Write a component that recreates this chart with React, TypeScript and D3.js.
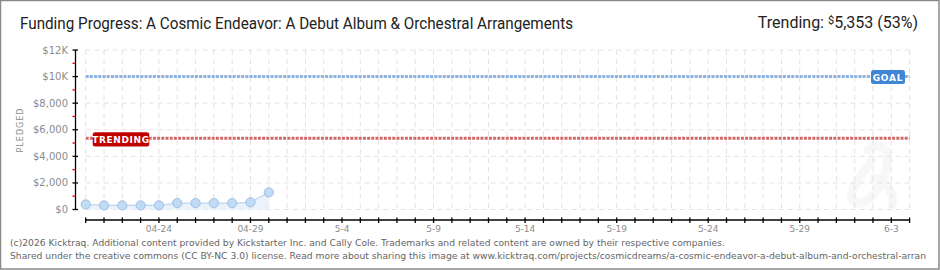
import React from "react";
import * as d3 from "d3";

const pledged = [380, 310, 310, 310, 310, 480, 480, 480, 480, 540, 1290];
const totalDays = 45;
const goal = 10000;
const trending = 5353;
const yTicks = [0, 2000, 4000, 6000, 8000, 10000, 12000];
const yTickLabels = ["$0", "$2,000", "$4,000", "$6,000", "$8,000", "$10K", "$12K"];
const yMinorTicks = [1000, 3000, 5000, 7000, 9000, 11000];
const xLabelDays = [4, 9, 14, 19, 24, 29, 34, 39, 44];
const xLabels = ["04-24", "04-29", "5-4", "5-9", "5-14", "5-19", "5-24", "5-29", "6-3"];
const title = "Funding Progress: A Cosmic Endeavor: A Debut Album & Orchestral Arrangements";
const footer1 = "(c)2026 Kicktraq. Additional content provided by Kickstarter Inc. and Cally Cole. Trademarks and related content are owned by their respective companies.";
const footer2 = "Shared under the creative commons (CC BY-NC 3.0) license. Read more about sharing this image at www.kicktraq.com/projects/cosmicdreams/a-cosmic-endeavor-a-debut-album-and-orchestral-arran";

export default function App() {
  const W = 940, H = 270;
  const x = d3.scaleLinear().domain([0, totalDays]).range([85.7, 909.6]);
  const y = d3.scaleLinear().domain([0, 12000]).range([209.5, 50]);
  const days = d3.range(0, totalDays + 1);
  const pts = pledged.map((v, i) => [x(i), y(v)] as [number, number]);
  const line = d3.line<[number, number]>().x(d => d[0]).y(d => d[1]);
  const area = d3.area<[number, number]>().x(d => d[0]).y0(y(0)).y1(d => d[1]);
  const axisY = 220;
  const gray = "#8c8c8c";
  const font = "'DejaVu Sans', sans-serif";
  return (
    <svg width={W} height={H} style={{ position: "fixed", left: 0, top: 0, background: "#fff" }}>
      <rect x={0} y={0} width={W} height={H} fill="#fff" />
      {/* watermark */}
      <path d="M868,150 C880,140 898,150 880,185 C872,200 858,210 852,198 C848,188 866,172 872,160 M874,178 C886,180 896,196 892,205" fill="none" stroke="#f7f7f7" strokeWidth={9} strokeLinecap="round" />
      {/* grid */}
      {days.map(d => (
        <line key={"vg" + d} x1={x(d)} x2={x(d)} y1={y(12000)} y2={y(0)} stroke="#e2e2e2" strokeDasharray="5,4" />
      ))}
      {yTicks.map(t => (
        <line key={"hg" + t} x1={x(0)} x2={x(totalDays)} y1={y(t)} y2={y(t)} stroke="#e2e2e2" strokeDasharray="5,4" />
      ))}
      {/* area + line + points */}
      <path d={area(pts) || ""} fill="#eaf2fb" />
      <path d={line(pts) || ""} fill="none" stroke="#bcd6f1" strokeWidth={1.2} />
      {pts.map((p, i) => (
        <circle key={"pt" + i} cx={p[0]} cy={p[1]} r={4.6} fill="#c2dbf4" stroke="#9fc0e4" strokeWidth={1} />
      ))}
      {/* goal line */}
      <line x1={x(0)} x2={x(totalDays)} y1={y(goal)} y2={y(goal)} stroke="#8db2de" strokeWidth={3} strokeDasharray="3,1.2" />
      <rect x={871} y={70} width={34} height={14} rx={2.5} fill="#3f86d6" />
      <text x={888} y={80.5} textAnchor="middle" fontFamily={font} fontSize={9} fontWeight="bold" fill="#fff" letterSpacing={0.8}>GOAL</text>
      {/* trending line */}
      <line x1={x(0)} x2={x(totalDays)} y1={y(trending)} y2={y(trending)} stroke="#d06a6a" strokeWidth={3} strokeDasharray="3,1.2" />
      <rect x={92.7} y={132.3} width={56.6} height={14.2} rx={2.5} fill="#c00000" />
      <text x={121} y={142.8} textAnchor="middle" fontFamily={font} fontSize={9} fontWeight="bold" fill="#fff" letterSpacing={0.6}>TRENDING</text>
      {/* y axis */}
      <line x1={75.5} x2={75.5} y1={y(12000)} y2={y(0)} stroke="#000" strokeWidth={1.3} />
      {yTicks.map(t => (
        <line key={"yt" + t} x1={72.5} x2={78} y1={y(t)} y2={y(t)} stroke="#000" strokeWidth={1.3} />
      ))}
      {yMinorTicks.map(t => (
        <line key={"ym" + t} x1={72.5} x2={75.5} y1={y(t)} y2={y(t)} stroke="#e00000" strokeWidth={1.3} />
      ))}
      {yTicks.map((t, i) => (
        <text key={"yl" + t} x={68} y={y(t) + 3.5} textAnchor="end" fontFamily={font} fontSize={10} fill={gray}>{yTickLabels[i]}</text>
      ))}
      <text transform="translate(23,130) rotate(-90)" textAnchor="middle" fontFamily={font} fontSize={8} fill={gray} letterSpacing={1}>PLEDGED</text>
      {/* x axis */}
      <line x1={x(0)} x2={x(totalDays)} y1={axisY} y2={axisY} stroke="#000" strokeWidth={1.3} />
      {days.map(d => (
        <line key={"xt" + d} x1={x(d)} x2={x(d)} y1={axisY - 2.5} y2={axisY + 3} stroke="#000" strokeWidth={1.3} />
      ))}
      {xLabelDays.map((d, i) => (
        <text key={"xl" + d} x={x(d)} y={231.5} textAnchor="middle" fontFamily={font} fontSize={9} fill={gray}>{xLabels[i]}</text>
      ))}
      {/* title */}
      <text x={20} y={29} fontFamily="'Liberation Sans Narrow', 'Roboto', sans-serif" fontSize={16} fill="#222" textLength={553} lengthAdjust="spacingAndGlyphs">{title}</text>
      <text x={918} y={28} textAnchor="end" fontFamily="'Liberation Sans Narrow', 'Roboto', sans-serif" fontSize={16} fill="#222">
        Trending:  <tspan fontSize={11} dy={-4}>$</tspan><tspan dy={4}>5,353 (53%)</tspan>
      </text>
      {/* footer */}
      <text x={10} y={246} fontFamily={font} fontSize={9.5} fill="#666" textLength={715} lengthAdjust="spacingAndGlyphs">{footer1}</text>
      <text x={10} y={259} fontFamily={font} fontSize={8.6} fill="#666" textLength={916} lengthAdjust="spacingAndGlyphs">{footer2}</text>
      {/* frame */}
      <rect x={0.5} y={0.5} width={W - 1.5} height={H - 1.5} fill="none" stroke="#8a8a8a" strokeWidth={1.5} />
    </svg>
  );
}
